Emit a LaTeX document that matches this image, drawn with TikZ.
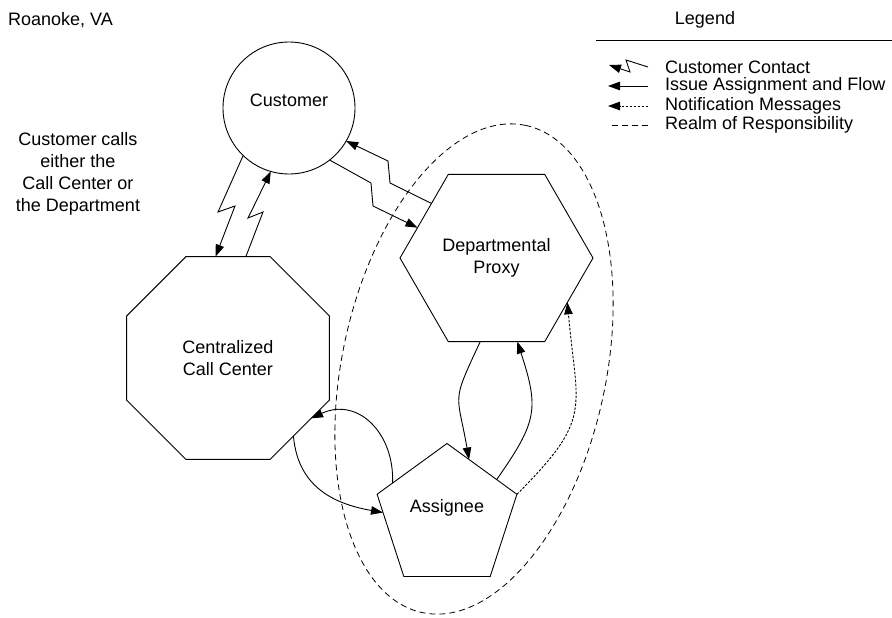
\documentclass[tikz,border=0pt]{standalone}
\usepackage{fontspec}
\setmainfont{Liberation Sans}
\usetikzlibrary{shapes.geometric,arrows.meta}

\begin{document}
\begin{tikzpicture}[x=1pt,y=1pt,
  every node/.style={font=\fontsize{18}{22}\selectfont},
  shapebox/.style={draw, line width=0.9pt, inner sep=0pt, outer sep=0pt, align=center},
  tipped/.style={-{Triangle[length=12pt,width=8.5pt]}},
  link/.style={line width=0.9pt, tipped},
  notify/.style={link, dash pattern=on 2.5pt off 1.5pt},
  realm/.style={line width=0.8pt, dash pattern=on 6pt off 4pt},
  legtext/.style={anchor=west, inner sep=0pt}]
\useasboundingbox (0,0) rectangle (892,-618);

% realm of responsibility
\draw[realm] (474,-369) ellipse [x radius=249, y radius=132, rotate=78];

% the four parties
\node[shapebox, circle, minimum size=132pt,
      label={[yshift=8pt]center:Customer}] (cust) at (289,-108) {};
\node[shapebox, regular polygon, regular polygon sides=8, minimum size=219.5pt]
      (cc) at (228,-358) {Centralized\\Call Center};
\node[shapebox, regular polygon, regular polygon sides=6, minimum size=193pt]
      (proxy) at (496.5,-258) {Departmental\\Proxy};
\node[shapebox, regular polygon, regular polygon sides=5, minimum size=147pt,
      label={[yshift=9pt]center:Assignee}] (asg) at (447,-517) {};

% customer contact (lightning links)
\draw[link] (cust.226.8) -- (218,-212) -- (235,-206) -- (cc.97.3);
\draw[link] (cc.80.4) -- (263,-212) -- (248,-218) -- (cust.254.5);
\draw[link] (proxy.140.4) -- (390,-183) -- (388,-161) -- (cust.-30.8);
\draw[link] (cust.-52.8) -- (371,-183) -- (373,-206) -- (proxy.159.6);

% issue assignment and flow
\draw[link] (asg.148.4) to[out=88, in=25, looseness=1.25] (cc.-36.6);
\draw[link] (cc.-50.6) to[out=-85, in=170, looseness=1.1] (asg.176.5);
\draw[link] (proxy.-101.8) to[out=-115, in=100, looseness=1.5] (asg.69.2);
\draw[link] (asg.37.4) to[out=55, in=-72, looseness=1.3] (proxy.-76.9);

% notification messages
\draw[notify] (asg.18) to[out=45, in=-85, looseness=1.4] (proxy.-32.2);

% captions
\node[anchor=west, inner sep=0pt] (place) at (8,-20) {Roanoke, VA};
\node[align=center, inner sep=0pt] (note) at (78,-174)
  {Customer calls\\either the\\Call Center or\\the Department};

% legend
\node[inner sep=0pt] (legtitle) at (705,-20) {Legend};
\coordinate (rl) at (596,-40);
\coordinate (rr) at (892,-40);
\draw[line width=0.8pt] (rl) -- (rr);

\coordinate (s1) at (648,-67);
\coordinate (e1) at (609,-65);
\draw[link] (s1) -- (626,-60) -- (630,-72) -- (e1);
\node[legtext] (t1) at (665,-67) {Customer Contact};

\coordinate (s2) at (648,-86);
\coordinate (e2) at (608,-86);
\draw[link] (s2) -- (e2);
\node[legtext] (t2) at (665,-86) {Issue Assignment and Flow};

\coordinate (s3) at (648,-106);
\coordinate (e3) at (608,-106);
\draw[notify] (s3) -- (e3);
\node[legtext] (t3) at (665,-106) {Notification Messages};

\coordinate (s4) at (648,-125);
\coordinate (e4) at (608,-125);
\draw[realm] (s4) -- (e4);
\node[legtext] (t4) at (665,-125) {Realm of Responsibility};
\end{tikzpicture}
\end{document}
